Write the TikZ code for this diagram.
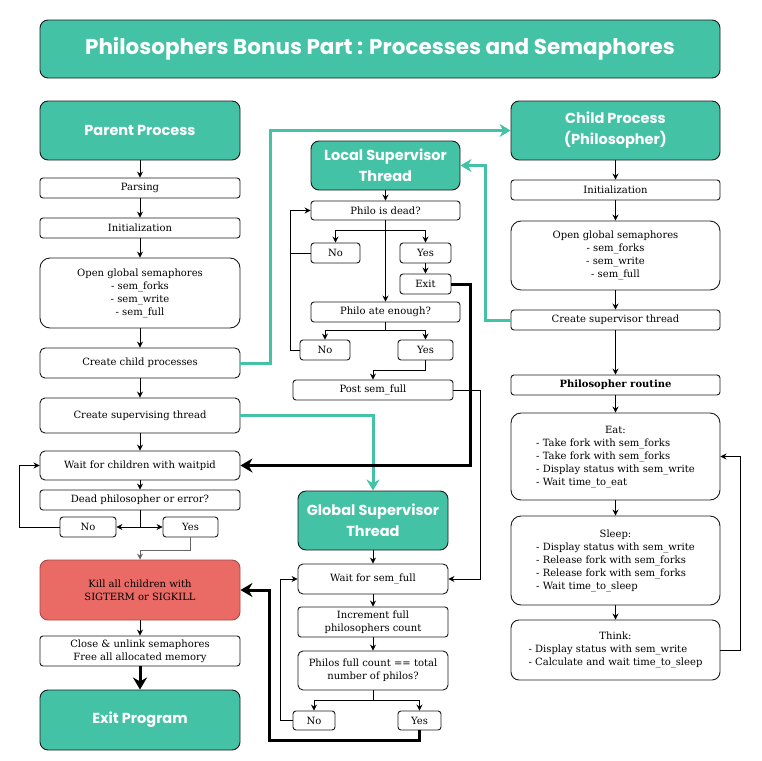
\documentclass[tikz,border=0pt]{standalone}
\usepackage{fontspec}
\setmainfont{DejaVu Serif}
\newfontfamily\headfont{Poppins}
\usetikzlibrary{arrows.meta}
\definecolor{headteal}{HTML}{44C2A6}
\definecolor{killred}{HTML}{EA6B66}
\definecolor{boxline}{HTML}{1A1A1A}
\begin{document}
\begin{tikzpicture}[x=1pt,y=-1pt,
            box/.style={draw=boxline,line width=0.9pt,rounded corners=3pt,fill=white,align=center,inner sep=1pt,font=\fontsize{10}{13}\selectfont},
            sz/.style 2 args={minimum width=#1pt,minimum height=#2pt},
            head/.style={box,fill=headteal,rounded corners=8pt,text=white,font=\headfont\bfseries\fontsize{14.5}{21}\selectfont},
            arr/.style={-{Stealth[length=6pt,width=6pt]},line width=0.9pt},
            fat/.style={-{Stealth[length=12pt,width=14pt]},line width=3pt},
            link/.style={-{Stealth[length=11pt,width=13pt]},line width=3pt,draw=headteal}]
            \useasboundingbox (0,0) rectangle (761,761);
            \node[head,sz={680}{58},font=\headfont\bfseries\fontsize{21.5}{24}\selectfont] (title) at (380,49) {Philosophers Bonus Part : Processes and Semaphores};
            %% parent process
            \node[head,sz={200}{59}] (parent) at (140,130.5) {Parent Process};
            \node[box,sz={200}{20}] (parse) at (140,188) {Parsing};
            \node[box,sz={200}{20}] (init) at (140,228) {Initialization};
            \node[box,sz={200}{70},rounded corners=10pt] (open) at (140,293) {Open global semaphores\\- sem\_forks\\- sem\_write\\- sem\_full};
            \node[box,sz={200}{30},rounded corners=5pt] (child) at (140,363) {Create child processes};
            \node[box,sz={200}{35},rounded corners=5pt] (supth) at (140,415.5) {Create supervising thread};
            \node[box,sz={200}{29},rounded corners=5pt] (wait) at (140,465.5) {Wait for children with waitpid};
            \node[box,sz={200}{20}] (dead) at (140,500) {Dead philosopher or error?};
            \node[box,sz={56}{20}] (no1) at (88,527) {No};
            \node[box,sz={55}{20}] (yes1) at (190.5,527) {Yes};
            \node[box,sz={200}{60},rounded corners=8pt,fill=killred,draw=killred!70!black] (kill) at (140,590) {Kill all children with\\SIGTERM or SIGKILL};
            \node[box,sz={200}{30}] (close) at (140,651) {Close \& unlink semaphores\\Free all allocated memory};
            \node[head,sz={200}{60}] (exitp) at (140,720) {Exit Program};
            %% local supervisor
            \node[head,sz={149}{49}] (lsup) at (385.5,165.5) {Local Supervisor\\Thread};
            \node[box,sz={149}{19}] (isdead) at (385.5,210.5) {Philo is dead?};
            \node[box,sz={49}{20}] (no2) at (335.5,253) {No};
            \node[box,sz={51}{20}] (yes2) at (425.5,253) {Yes};
            \node[box,sz={51}{20}] (lexit) at (425.5,284) {Exit};
            \node[box,sz={149}{20}] (ate) at (385.5,312) {Philo ate enough?};
            \node[box,sz={50}{20}] (no3) at (325,350) {No};
            \node[box,sz={55}{20}] (yes3) at (425.5,350) {Yes};
            \node[box,sz={160}{20}] (post) at (373,390) {Post sem\_full};
            %% child process
            \node[head,sz={209}{59}] (childp) at (615.5,130.5) {Child Process\\(Philosopher)};
            \node[box,sz={209}{20}] (cinit) at (615.5,190) {Initialization};
            \node[box,sz={209}{69},rounded corners=10pt] (copen) at (615.5,255.5) {Open global semaphores\\- sem\_forks\\- sem\_write\\- sem\_full};
            \node[box,sz={209}{20}] (csup) at (615.5,320) {Create supervisor thread};
            \node[box,sz={209}{20},font=\bfseries\fontsize{10}{13}\selectfont] (routine) at (615.5,385) {Philosopher routine};
            \node[box,sz={209}{87},rounded corners=10pt] (eat) at (615.5,456.5) {\begin{tabular}{@{}l@{}}\multicolumn{1}{c}{Eat:}\\- Take fork with sem\_forks\\- Take fork with sem\_forks\\- Display status with sem\_write\\- Wait time\_to\_eat\end{tabular}};
            \node[box,sz={209}{89},rounded corners=10pt] (sleep) at (615.5,560.5) {\begin{tabular}{@{}l@{}}\multicolumn{1}{c}{Sleep:}\\- Display status with sem\_write\\- Release fork with sem\_forks\\- Release fork with sem\_forks\\- Wait time\_to\_sleep\end{tabular}};
            \node[box,sz={209}{60},rounded corners=8pt] (think) at (615.5,650) {\begin{tabular}{@{}l@{}}\multicolumn{1}{c}{Think:}\\- Display status with sem\_write\\- Calculate and wait time\_to\_sleep\end{tabular}};
            %% global supervisor
            \node[head,sz={150}{59}] (gsup) at (373,520.5) {Global Supervisor\\Thread};
            \node[box,sz={150}{30},rounded corners=5pt] (wsem) at (373,579) {Wait for sem\_full};
            \node[box,sz={150}{30}] (incr) at (373,622) {Increment full\\philosophers count};
            \node[box,sz={150}{39},rounded corners=5pt] (full) at (373,670.5) {Philos full count == total\\number of philos?};
            \node[box,sz={42}{19}] (no4) at (314,720.5) {No};
            \node[box,sz={43}{19}] (yes4) at (419.5,720.5) {Yes};
            %% straight arrows
            \foreach \a/\b in {parent/parse,parse/init,init/open,open/child,child/supth,supth/wait,wait/dead,
                kill/close,lsup/isdead,isdead/ate,yes2/lexit,childp/cinit,cinit/copen,copen/csup,csup/routine,
                routine/eat,eat/sleep,sleep/think,gsup/wsem,wsem/incr,incr/full}{
            \draw[arr] (\a) -- (\b);
            }
            \draw[fat] (close) -- (exitp);
            % branches
            \draw[arr] (dead.south) |- (no1.east);
            \draw[arr] (dead.south) |- (yes1.west);
            \draw[arr] (no1.west) -- ++(-40,0) |- (wait.west);
            \draw[arr,draw=gray!80!black] (yes1.south) -- ++(0,13) -| (kill.north);
            \draw[arr] (isdead.south) -- ++(0,10) -| (no2.north);
            \draw[arr] (isdead.south) -- ++(0,10) -| (yes2.north);
            \draw (no2.west) -- ++(-20,0);
            \draw[arr] (no3.west) -- ++(-9,0) |- (isdead.west);
            \draw[arr] (ate.south) -- ++(0,8) -| (no3.north);
            \draw[arr] (ate.south) -- ++(0,8) -| (yes3.north);
            \draw[arr] (yes3.south) -- ++(0,10) -| (post.north);
            \draw[arr] (post.east) -- ++(27,0) |- (wsem.east);
            \draw[arr] (think.east) -- ++(20,0) |- (eat.east);
            \draw[arr] (full.south) -- ++(0,10) -| (no4.north);
            \draw[arr] (full.south) -- ++(0,10) -| (yes4.north);
            \draw[arr] (no4.west) -- ++(-12,0) |- (wsem.west);
            % process and thread links
            \draw[link] (child.east) -- ++(30,0) |- (childp.west);
            \draw[link] (supth.east) -| (gsup.north);
            \draw[link] (csup.west) -- ++(-25,0) |- (lsup.east);
            \draw[fat] (lexit.east) -- ++(19,0) |- (wait.east);
            \draw[fat] (yes4.south) |- ++(-150,10) |- (kill.east);
\end{tikzpicture}
\end{document}
